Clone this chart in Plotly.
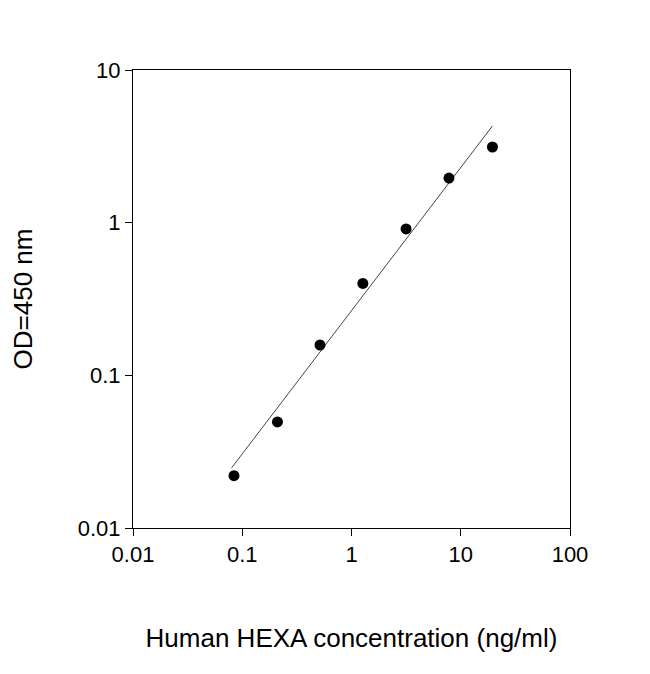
import plotly.graph_objects as go

conc = [0.084, 0.21, 0.515, 1.27, 3.16, 7.8, 19.5]
od = [0.022, 0.0495, 0.158, 0.40, 0.91, 1.96, 3.13]
fit_x = [0.08, 19.5]
fit_y = [0.0248, 4.3]

fig = go.Figure()
fig.add_trace(go.Scatter(x=fit_x, y=fit_y, mode="lines",
                         line=dict(color="#444444", width=1), showlegend=False))
fig.add_trace(go.Scatter(x=conc, y=od, mode="markers",
                         marker=dict(color="black", size=11), showlegend=False))
axis_common = dict(type="log", showgrid=False, zeroline=False, showline=True,
                   linecolor="black", linewidth=1, mirror=True, ticks="outside",
                   ticklen=7, tickcolor="black",
                   tickfont=dict(family="Liberation Sans", size=22, color="black"))
fig.update_xaxes(range=[-2, 2], tickvals=[0.01, 0.1, 1, 10, 100],
                 ticktext=["0.01", "0.1", "1", "10", "100"],
                 title=dict(text="Human HEXA concentration (ng/ml)", standoff=62,
                            font=dict(family="Liberation Sans", size=26, color="black")),
                 **axis_common)
fig.update_yaxes(range=[-2, 1], tickvals=[0.01, 0.1, 1, 10],
                 ticktext=["0.01", "0.1", "1", "10"],
                 title=dict(text="OD=450 nm", standoff=40,
                            font=dict(family="Liberation Sans", size=26, color="black")),
                 **axis_common)
fig.update_layout(width=650, height=674, plot_bgcolor="white", paper_bgcolor="white",
                  margin=dict(l=125, r=88, t=62, b=154))
fig.write_html("out.html")
